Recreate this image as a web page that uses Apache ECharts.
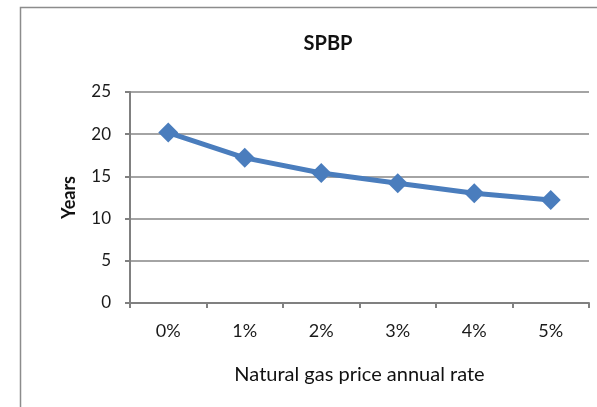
<!DOCTYPE html>
<html>
<head>
<meta charset="utf-8">
<script src="https://cdn.jsdelivr.net/npm/echarts@6/dist/echarts.min.js"></script>
<style>
  html, body { margin: 0; padding: 0; background: #fff; }
  #chart { width: 597px; height: 407px; }
</style>
</head>
<body>
<div id="chart"></div>
<script>
var categories = ['0%', '1%', '2%', '3%', '4%', '5%'];
var spbpYears = [20.2, 17.2, 15.4, 14.2, 13.0, 12.2];
var yTicks = { min: 0, max: 25, interval: 5 };

var chart = echarts.init(document.getElementById('chart'));
var font = 'Lato, "Open Sans", sans-serif';
var option = {
    animation: false,
    backgroundColor: '#fff',
    title: {
        text: 'SPBP',
        left: 323,
        top: 29,
        textAlign: 'center',
        textStyle: { fontFamily: font, fontSize: 20, fontWeight: 'bold', color: '#111' }
    },
    graphic: [{
        type: 'rect',
        shape: { x: 20.5, y: 7.5, width: 620, height: 450 },
        style: { fill: 'none', stroke: '#8c8c8c', lineWidth: 1.5 },
        silent: true
    }],
    grid: { left: 130, top: 92, right: 8, bottom: 104 },
    xAxis: {
        type: 'category',
        data: categories,
        boundaryGap: true,
        name: 'Natural gas price annual rate',
        nameLocation: 'middle',
        nameGap: 62,
        nameTextStyle: { fontFamily: font, fontSize: 20, color: '#111' },
        axisLine: { lineStyle: { color: '#808080', width: 2 } },
        axisTick: { show: true, length: 5, lineStyle: { color: '#808080', width: 2 } },
        axisLabel: { fontFamily: font, fontSize: 18, color: '#1a1a1a', margin: 19 },
        splitLine: { show: false }
    },
    yAxis: {
        type: 'value',
        min: yTicks.min,
        max: yTicks.max,
        interval: yTicks.interval,
        name: 'Years',
        nameLocation: 'middle',
        nameGap: 52,
        nameTextStyle: { fontFamily: font, fontSize: 18, fontWeight: 'bold', color: '#111' },
        axisLine: { show: true, lineStyle: { color: '#808080', width: 2 } },
        axisTick: { show: true, length: 5, lineStyle: { color: '#808080', width: 2 } },
        axisLabel: { fontFamily: font, fontSize: 17, color: '#1a1a1a', margin: 19 },
        splitLine: { show: true, lineStyle: { color: '#868686', width: 1.5 } }
    },
    series: [{
        name: 'SPBP',
        type: 'line',
        data: spbpYears,
        symbol: 'diamond',
        symbolSize: 20,
        lineStyle: { color: '#4a7dbd', width: 5 },
        itemStyle: { color: '#4a7dbd' }
    }]
};
chart.setOption(option);
</script>
</body>
</html>
